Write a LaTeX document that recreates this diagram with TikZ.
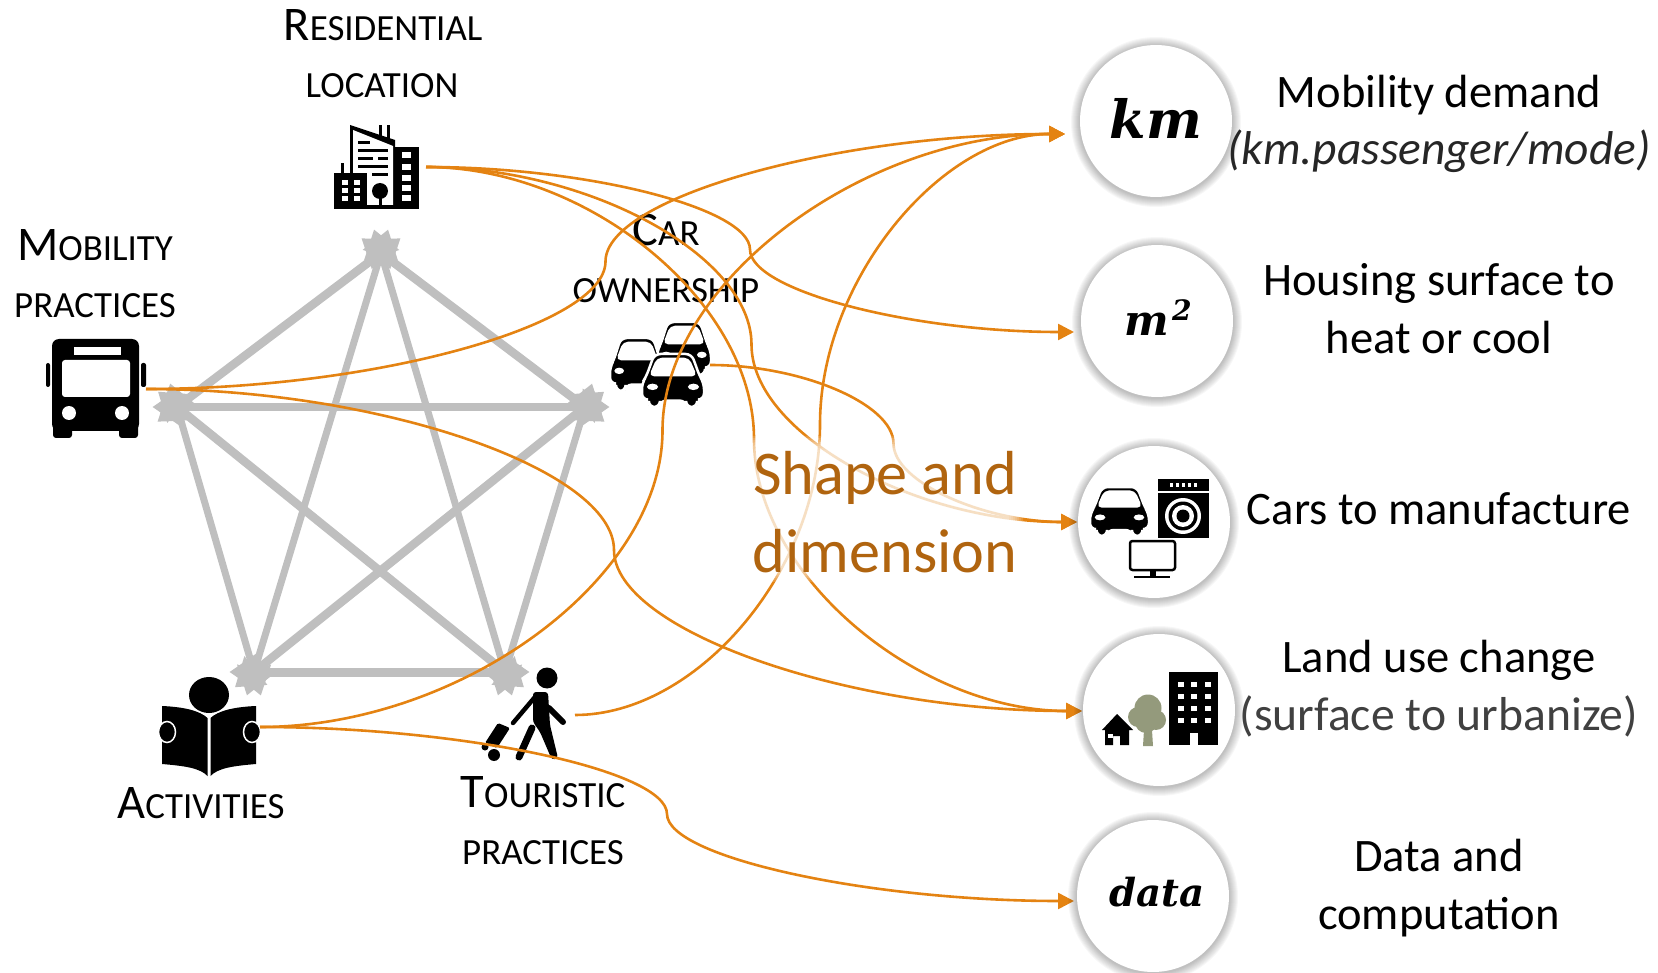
\documentclass[tikz,border=0pt]{standalone}
\usepackage{fontspec}
\usetikzlibrary{arrows.meta,calc}
\newfontfamily\cb{Carlito}
\newfontfamily\brush{DejaVu Serif}
\definecolor{conncol}{HTML}{E48312}
\definecolor{penta}{HTML}{BFBFBF}
\definecolor{shapecol}{HTML}{B0640F}
\definecolor{olive}{HTML}{949A7C}
\newcommand\capsbig{\fontsize{27.5}{30}\selectfont}
\newcommand\capssmall{\fontsize{21}{30}\selectfont}
\newcommand\sctext[2]{{\cb\capsbig #1\capssmall #2}}
\tikzset{
  x=0.02cm,y=-0.02cm,
  conn/.style={draw=conncol,line width=0.052cm,-{Triangle[length=0.32cm,width=0.32cm]}},
  edge1/.style={draw=penta,line width=#1,{Triangle[length=0.54cm,width=0.7cm]}-{Triangle[length=0.54cm,width=0.7cm]},shorten >=-0.5cm,shorten <=-0.5cm},
  capslabel/.style={anchor=base,inner sep=0pt,text=black},
  rightlabel/.style={anchor=base,inner sep=0pt,font=\cb\fontsize{26.5}{30}\selectfont},
  brushlabel/.style={inner sep=0pt,font=\brush\bfseries\itshape},
  valuecircle/.style={circle,fill=white,minimum size=3.04cm,inner sep=0pt},
  vertexpt/.style={inner sep=0pt,minimum size=0pt},
}
\newcommand\conncurve[2]{\draw[conn] let \p1=(#1),\p2=(#2) in (\p1)
  .. controls ({\x1+.25*(\x2-\x1)},\y1) and ({.5*(\x1+\x2)},{\y1+.25*(\y2-\y1)}) .. ({.5*(\x1+\x2)},{.5*(\y1+\y2)})
  .. controls ({.5*(\x1+\x2)},{\y1+.75*(\y2-\y1)}) and ({\x1+.75*(\x2-\x1)},\y2) .. (\p2);}
\newcommand\softcircle[3]{%
  \foreach \r in {85,84,83,82,81,80,79,78,77}{\fill[black,opacity=.03] (#2,#3+1) circle[radius=\r*0.02cm];}
  \node[valuecircle] (#1) at (#2,#3) {};}
\newcommand\frontcar[4]{%
\begin{scope}[shift={(#1,#2)},xscale=#3/100,yscale=#4/100]
  \fill[black,draw=white,line width=0.05cm,rounded corners=0.12cm]
    (20,0)--(80,0)--(93,42)--(100,55)--(100,86)--(89,86)--(89,100)--(71,100)--(71,88)--(29,88)--(29,100)--(11,100)--(11,86)--(0,86)--(0,55)--(7,42)--cycle;
  \fill[white,rounded corners=0.1cm] (24,7)--(76,7)--(89,42)--(11,42)--cycle;
  \fill[white] (17,62) ellipse[x radius=9,y radius=6];
  \fill[white] (83,62) ellipse[x radius=9,y radius=6];
\end{scope}}
\begin{document}
\begin{tikzpicture}
\useasboundingbox (0,0) rectangle (1658,973);
% pentagram vertices
\node[vertexpt] (T) at (381,253) {};
\node[vertexpt] (L) at (177,407) {};
\node[vertexpt] (R) at (585,407) {};
\node[vertexpt] (BL) at (254,672) {};
\node[vertexpt] (BR) at (505,672) {};
\draw[edge1=0.17cm] (T)--(L);
\draw[edge1=0.17cm] (T)--(R);
\draw[edge1=0.14cm] (T)--(BL);
\draw[edge1=0.14cm] (T)--(BR);
\draw[edge1=0.18cm] (L)--(R);
\draw[edge1=0.14cm] (L)--(BL);
\draw[edge1=0.17cm] (L)--(BR);
\draw[edge1=0.17cm] (R)--(BL);
\draw[edge1=0.14cm] (R)--(BR);
\draw[edge1=0.18cm] (BL)--(BR);
% bus icon
\fill[rounded corners=0.14cm] (52,339) rectangle (139,431);
\fill[rounded corners=0.06cm] (53,420) rectangle (72,438);
\fill[rounded corners=0.06cm] (119,420) rectangle (138,438);
\fill[rounded corners=0.04cm] (46,363) rectangle (50,387);
\fill[rounded corners=0.04cm] (141,363) rectangle (146,387);
\fill[white,rounded corners=0.06cm] (62,360) rectangle (130,397);
\fill[white] (74,347) rectangle (121,355);
\fill[white] (69,413) circle[radius=0.14cm];
\fill[white] (122,413) circle[radius=0.14cm];
% residential icon
\fill (350,125)--(395,140)--(395,209)--(350,209)--cycle;
\fill[white] (353,130)--(393,146)--(393,205)--(353,205)--cycle;
\fill (395,147) rectangle (419,209);
\fill (379,125) rectangle (381.5,138);
\fill (387,125) rectangle (389.5,140);
\foreach \yy in {155,167,178,188,198}{\fill[white] (402,\yy-3) rectangle (411,\yy+3);}
\foreach \yy/\xa/\xb in {143/358/370,151/358/388,159/358/373,159/378/388,167/358/388,175/372/388}{\fill (\xa,\yy-1.5) rectangle (\xb,\yy+1.5);}
\fill (341,163) rectangle (344,175);
\fill (334,173) rectangle (367,209);
\foreach \xx in {342,354}{\foreach \yy in {183,191,199}{\fill[white] (\xx,\yy-2.5) rectangle (\xx+6,\yy+2.5);}}
\fill (380,191) circle[radius=0.16cm];
\fill (378.5,195) rectangle (381.5,207);
% cars icon
\frontcar{657}{322}{54}{53}
\frontcar{610}{338}{54}{53}
\frontcar{642}{354}{62}{53}
% reader icon
\fill (209,695) ellipse[x radius=20,y radius=18];
\fill (162,706) .. controls (185,707) and (200,711) .. (207.5,718) -- (207.5,776) .. controls (200,768) and (185,766) .. (162,764) --cycle;
\fill (256,706) .. controls (233,707) and (218,711) .. (210.5,718) -- (210.5,776) .. controls (218,768) and (233,766) .. (256,764) --cycle;
\fill[fill=black,draw=white,line width=0.03cm] (167,732) ellipse[x radius=8.5,y radius=10.5];
\fill[fill=black,draw=white,line width=0.03cm] (252,732) ellipse[x radius=8.5,y radius=10.5];
% walker icon
\fill (547,678) circle[radius=0.21cm];
\fill[rounded corners=0.06cm] (533,692)--(548,692)--(550,725)--(558,758)--(552,760)--(540,732)--(533,722)--cycle;
\draw[line width=0.14cm,line cap=round] (532,728)--(519,757);
\draw[line width=0.12cm,line cap=round] (549,708)--(563,722);
\draw[line width=0.09cm,line cap=round] (535,697)--(513,723);
\fill[rounded corners=0.03cm] (498,723)--(510,728)--(497,748)--(485,743)--cycle;
\fill (494,755) circle[radius=0.12cm];
\fill (485,747) circle[radius=0.07cm];
% source and target points of the connectors
\coordinate (srcRes) at (426,167);
\coordinate (srcMob) at (146,389);
\coordinate (srcCar) at (710,365);
\coordinate (srcAct) at (260,727);
\coordinate (srcTou) at (575,715);
\coordinate (tgtKm) at (1065,134);
\coordinate (tgtM) at (1074,332);
\coordinate (tgtCars) at (1077,522);
\coordinate (tgtLand) at (1082,711);
\coordinate (tgtData) at (1074,901);
% labels
\node[capslabel] (lResA) at (383,41) {\sctext{R}{ESIDENTIAL}};
\node[capslabel] (lResB) at (382,98) {\sctext{}{LOCATION}};
\node[capslabel] (lMobA) at (95,261) {\sctext{M}{OBILITY}};
\node[capslabel] (lMobB) at (95,318) {\sctext{}{PRACTICES}};
\node[capslabel] (lCarA) at (666,246) {\sctext{C}{AR}};
\node[capslabel] (lCarB) at (666,303) {\sctext{}{OWNERSHIP}};
\node[capslabel] (lAct) at (201,818) {\sctext{A}{CTIVITIES}};
\node[capslabel] (lTouA) at (543,807) {\sctext{T}{OURISTIC}};
\node[capslabel] (lTouB) at (543,864) {\sctext{}{PRACTICES}};
% connectors
\conncurve{srcMob}{tgtKm}
\conncurve{srcCar}{tgtCars}
\conncurve{srcRes}{tgtM}
\conncurve{srcRes}{tgtCars}
\conncurve{srcRes}{tgtLand}
\conncurve{srcMob}{tgtLand}
\conncurve{srcAct}{tgtKm}
\conncurve{srcAct}{tgtData}
\conncurve{srcTou}{tgtKm}
% circles
\softcircle{cKm}{1156}{121}
\softcircle{cM}{1157}{321}
\softcircle{cCars}{1154}{522}
\softcircle{cLand}{1159}{710}
\softcircle{cData}{1153}{896}
\node[brushlabel,font=\brush\bfseries\itshape\fontsize{30}{32}\selectfont] (tKm) at (1156,118) {km};
\node[brushlabel,font=\brush\bfseries\itshape\fontsize{24}{30}\selectfont] (tM) at (1158,318) {m\kern0.06cm\raisebox{0.3cm}{\fontsize{16}{20}\selectfont 2}};
\node[brushlabel,font=\brush\bfseries\itshape\fontsize{22}{26}\selectfont] (tData) at (1157,892) {data};
% cars circle icons
\frontcar{1090}{487}{59}{49}
\fill (1158,479) rectangle (1209,538);
\fill[white] (1158,491) rectangle (1209,493);
\foreach \xx in {1170,1176,1182,1188,1194}{\fill[white] (\xx,483) rectangle (\xx+3,487);}
\fill[white] (1183,516) circle[radius=0.36cm];
\fill (1183,516) circle[radius=0.29cm];
\fill[white] (1183,516) circle[radius=0.22cm];
\fill (1183,516) circle[radius=0.13cm];
\draw[line width=0.05cm,rounded corners=0.05cm] (1130,541) rectangle (1175,570);
\fill (1150,570) rectangle (1156,576);
\fill (1134,576) rectangle (1170,578);
% land circle icons
\fill (1102,730)--(1117,714)--(1133,730)--(1129,730)--(1129,745)--(1120,745)--(1120,736)--(1113,736)--(1113,745)--(1105,745)--(1105,730)--cycle;
\fill[white] (1108,734) rectangle (1113,738);
\fill[olive] (1148,708) circle[radius=0.27cm];
\fill[olive] (1138,717) circle[radius=0.2cm];
\fill[olive] (1156,720) circle[radius=0.2cm];
\fill[olive] (1146,722) circle[radius=0.22cm];
\fill[olive] (1144,730) -- (1152,730) -- (1153,746) -- (1143,746) -- cycle;
\fill (1169,672) rectangle (1218,745);
\foreach \xx in {1178,1191,1205}{\foreach \yy in {682,694,706,718}{\fill[white] (\xx,\yy) rectangle (\xx+6,\yy+5);}}
\fill[white] (1190,733) rectangle (1198,745);
% right texts
\node[rightlabel] (rA1) at (1439,108) {Mobility demand};
\node[rightlabel,font=\cb\itshape\color{black!85}\fontsize{27}{30}\selectfont] (rA2) at (1439,165) {(km.passenger/mode)};
\node[rightlabel] (rB1) at (1439,296) {Housing surface to};
\node[rightlabel] (rB2) at (1439,354) {heat or cool};
\node[rightlabel] (rC1) at (1439,524) {Cars to manufacture};
\node[rightlabel] (rD1) at (1439,672) {Land use change};
\node[rightlabel,font=\cb\color{black!75}\fontsize{27.1}{30}\selectfont] (rD2) at (1439,730) {(surface to urbanize)};
\node[rightlabel] (rE1) at (1439,871) {Data and};
\node[rightlabel] (rE2) at (1439,929) {computation};
% centre text with its soft white glow
\foreach \ins in {0,2,4,6,8,10,12,14}{\fill[white,opacity=.16,rounded corners=0.15cm] (743+\ins,436+\ins) rectangle (1023-\ins,582-\ins);}
\node[anchor=base,inner sep=0pt,text=shapecol,font=\cb\fontsize{35.4}{40}\selectfont] (sA) at (885,495) {Shape and};
\node[anchor=base,inner sep=0pt,text=shapecol,font=\cb\fontsize{35.4}{40}\selectfont] (sB) at (885,572) {dimension};
\end{tikzpicture}
\end{document}
